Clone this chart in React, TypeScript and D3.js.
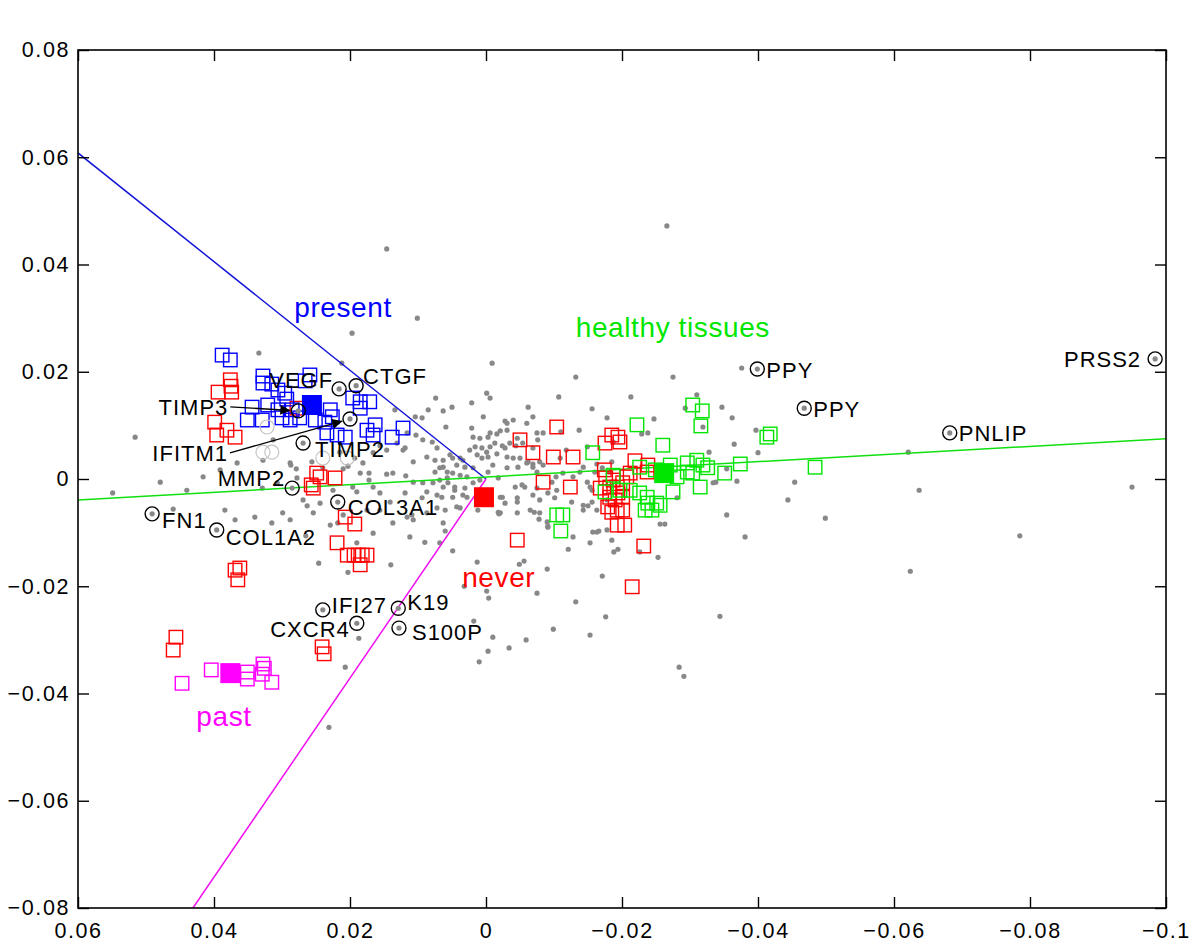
import React, { useEffect, useRef } from 'react';
import * as d3 from 'd3';

// axis ticks (x axis runs from 0.06 on the left to -0.1 on the right)
const xTicks = [0.06, 0.04, 0.02, 0, -0.02, -0.04, -0.06, -0.08, -0.1];
const xTickLabels = ['0.06', '0.04', '0.02', '0', '−0.02', '−0.04', '−0.06', '−0.08', '−0.1'];
const yTicks = [-0.08, -0.06, -0.04, -0.02, 0, 0.02, 0.04, 0.06, 0.08];
const yTickLabels = ['−0.08', '−0.06', '−0.04', '−0.02', '0', '0.02', '0.04', '0.06', '0.08'];

// all genes (grey dots)
const genePoints: [number, number][] = [
  [-0.0266, 0.0472], [0.0146, 0.0429], [0.0101, 0.0300], [0.0197, 0.0272], [0.0334, 0.0235], [-0.0009, 0.0216], [-0.0132, 0.0190], [-0.0275, 0.0190], [-0.0376, 0.0207], [0.0212, 0.0216],
  [-0.0213, 0.0153], [-0.0107, 0.0153], [-0.0310, 0.0157], [0.0074, 0.0151], [-0.0001, 0.0160], [0.0021, 0.0142], [-0.0062, 0.0134], [-0.0156, 0.0131], [-0.0178, 0.0114], [-0.0247, 0.0112],
  [-0.0293, 0.0132], [-0.0319, 0.0097], [-0.0362, 0.0114], [-0.0347, 0.0134], [-0.0397, 0.0091], [-0.0365, 0.0065], [-0.0328, 0.0050], [-0.0400, 0.0049], [-0.0621, 0.0050], [-0.0354, 0.0019],
  [-0.0334, -0.0007], [-0.0338, -0.0006], [-0.0369, -0.0004], [-0.0454, -0.0006], [-0.0444, -0.0039], [-0.0637, -0.0021], [-0.0950, -0.0015], [-0.0499, -0.0073], [-0.0624, -0.0172], [-0.0785, -0.0106],
  [-0.0344, -0.0256], [-0.0284, -0.0351], [-0.0291, -0.0368], [-0.0381, -0.0108], [-0.0354, -0.0067], [-0.0256, -0.0084], [-0.0263, -0.0084], [-0.0253, -0.0146], [-0.0226, -0.0136], [-0.0185, -0.0114],
  [-0.0188, -0.0136], [-0.0194, -0.0131], [-0.0153, -0.0119], [-0.0121, -0.0131], [-0.0143, -0.0049], [-0.0163, -0.0058], [-0.0157, -0.0099], [-0.0166, -0.0097], [-0.0171, -0.0181], [-0.0176, -0.0257],
  [-0.0153, -0.0291], [-0.0099, -0.0280], [-0.0059, -0.0300], [-0.0034, -0.0315], [-0.0010, -0.0295], [-0.0003, -0.0321], [0.0010, -0.0341], [0.0018, -0.0265], [-0.0132, -0.0229], [-0.0075, -0.0213],
  [-0.0090, -0.0168], [-0.0049, -0.0159], [-0.0056, -0.0153], [-0.0001, -0.0209], [-0.0004, -0.0222], [0.0032, -0.0200], [0.0013, -0.0155], [-0.0078, -0.0075], [-0.0090, -0.0080], [-0.0091, -0.0088],
  [-0.0071, -0.0062], [-0.0019, -0.0065], [0.0049, -0.0134], [0.0060, -0.0097], [0.0068, -0.0119], [0.0063, -0.0082], [0.0090, -0.0118], [0.0107, -0.0076], [0.0112, -0.0108], [0.0140, -0.0160],
  [0.0166, -0.0101], [0.0203, -0.0174], [0.0187, -0.0297], [0.0207, -0.0351], [0.0231, -0.0463], [0.0229, -0.0086], [0.0218, -0.0082], [0.0246, -0.0157], [0.0265, -0.0106], [0.0263, -0.0050],
  [0.0288, -0.0076], [0.0340, -0.0071], [0.0369, -0.0076], [0.0384, -0.0058], [0.0460, -0.0056], [0.0516, 0.0078], [0.0479, -0.0006], [0.0440, -0.0021], [0.0416, 0.0004], [0.0391, 0.0017],
  [0.0366, 0.0030], [0.0328, 0.0035], [0.0288, 0.0030], [0.0256, 0.0032], [0.0240, 0.0021], [0.0278, 0.0002], [0.0307, -0.0007], [0.0329, -0.0017], [0.0269, -0.0039], [0.0244, -0.0045],
  [0.0225, -0.0021], [0.0196, -0.0015], [0.0166, -0.0015], [0.0137, 0.0011], [0.0122, 0.0054], [0.0131, 0.0067], [0.0107, 0.0032], [0.0313, 0.0073], [0.0215, 0.0050], [0.0315, -0.0082],
  [0.0137, -0.0082], [0.0116, -0.0071], [0.0190, -0.0119], [0.0549, -0.0026],
  [0.0050, 0.0134], [0.0063, 0.0127], [0.0085, 0.0129], [0.0134, 0.0129], [0.0104, 0.0116], [0.0094, 0.0114], [0.0059, 0.0097], [0.0021, 0.0095], [0.0019, 0.0078], [0.0009, 0.0076],
  [-0.0003, 0.0078], [-0.0016, 0.0084], [-0.0021, 0.0090], [-0.0031, 0.0091], [-0.0031, 0.0104], [-0.0040, 0.0110], [-0.0060, 0.0104], [-0.0044, 0.0062], [-0.0054, 0.0067], [-0.0035, 0.0067],
  [-0.0024, 0.0062], [-0.0013, 0.0067], [-0.0006, 0.0060], [0.0006, 0.0058], [0.0016, 0.0060], [0.0013, 0.0045], [-0.0003, 0.0041], [-0.0016, 0.0047], [-0.0031, 0.0041], [-0.0040, 0.0039],
  [-0.0060, 0.0030], [-0.0069, 0.0028], [-0.0075, 0.0013], [-0.0057, -0.0015], [-0.0043, -0.0015], [-0.0024, -0.0034], [-0.0018, -0.0062], [-0.0046, -0.0043], [-0.0069, -0.0030], [0.0103, 0.0082],
  [0.0116, 0.0086], [0.0093, 0.0073], [0.0079, 0.0069], [0.0072, 0.0058], [0.0087, 0.0041], [0.0075, 0.0035], [0.0063, 0.0035], [0.0053, 0.0045], [0.0049, 0.0039], [0.0034, 0.0035],
  [0.0043, 0.0026], [0.0031, 0.0022], [0.0068, 0.0021], [0.0075, 0.0013], [0.0057, 0.0013], [0.0049, 0.0011], [0.0038, 0.0007], [0.0028, 0.0004], [0.0057, 0.0002], [0.0068, -0.0002],
  [0.0078, -0.0007], [0.0093, -0.0007], [0.0107, -0.0006], [0.0063, -0.0015], [0.0046, -0.0015], [0.0031, -0.0017], [0.0019, -0.0007], [0.0009, -0.0002], [0.0087, -0.0024], [0.0072, -0.0030],
  [0.0049, -0.0034], [0.0028, -0.0034], [0.0012, -0.0026], [0.0094, -0.0035], [0.0118, 0.0006], [0.0119, -0.0026], [0.0119, 0.0058], [0.0146, 0.0054], [0.0156, 0.0062], [0.0166, 0.0049],
  [0.0172, 0.0011], [0.0172, -0.0002], [0.0146, 0.0009], [0.0181, 0.0030], [0.0193, 0.0039], [0.0203, 0.0024], [0.0210, 0.0019], [0.0185, 0.0011], [0.0190, -0.0024], [0.0156, -0.0026],
  [0.0141, -0.0043], [0.0156, -0.0058], [0.0175, -0.0058], [0.0210, -0.0067], [0.0254, -0.0063], [0.0287, 0.0026], [0.0279, 0.0019], [0.0299, -0.0063], [0.0087, -0.0063], [0.0109, -0.0067],
  [0.0072, -0.0054], [0.0038, -0.0054], [0.0012, -0.0058], [-0.0006, 0.0151], [-0.0075, 0.0086], [-0.0076, 0.0073], [-0.0069, 0.0058],
  [-0.0069, 0.0116], [-0.0137, 0.0091], [-0.0110, 0.0088], [-0.0084, 0.0086], [-0.0238, 0.0086], [-0.0229, 0.0084], [-0.0187, 0.0069], [-0.0149, 0.0060], [-0.0118, 0.0054], [-0.0109, 0.0039],
  [-0.0079, 0.0032], [-0.0143, 0.0022], [-0.0163, 0.0028], [-0.0171, 0.0021], [-0.0185, 0.0032], [-0.0138, 0.0013], [-0.0160, 0.0013], [-0.0113, 0.0011], [-0.0103, 0.0004], [-0.0128, 0.0004],
  [-0.0153, -0.0015], [-0.0075, -0.0017], [-0.0091, -0.0026], [-0.0101, -0.0035], [-0.0150, -0.0050], [-0.0181, 0.0013], [-0.0281, -0.0035], [0.0004, 0.0116], [-0.0028, 0.0108],
  [-0.0006, 0.0086], [-0.0046, 0.0076], [0.0024, 0.0054], [-0.0001, 0.0050], [-0.0028, 0.0058], [-0.0050, 0.0039], [-0.0062, 0.0032], [-0.0084, 0.0026], [-0.0069, 0.0022], [-0.0047, 0.0022],
  [-0.0031, 0.0021], [-0.0010, 0.0026], [0.0006, 0.0039], [-0.0003, 0.0013], [-0.0018, 0.0002], [0.0019, 0.0021], [0.0038, 0.0039], [0.0063, 0.0022], [0.0056, -0.0007], [0.0065, -0.0034],
  [0.0046, -0.0021], [0.0034, -0.0030], [0.0043, -0.0052], [0.0060, -0.0058], [-0.0021, -0.0034], [-0.0028, -0.0045], [-0.0046, -0.0035], [-0.0053, -0.0011], [-0.0097, -0.0006], [-0.0149, -0.0006],
  [-0.0156, -0.0021], [-0.0126, -0.0043], [-0.0079, -0.0039], [-0.0104, -0.0021], [-0.0143, -0.0058], [-0.0156, -0.0043], [-0.0178, -0.0039], [-0.0079, -0.0063], [-0.0091, -0.0090], [-0.0065, -0.0058],
  [-0.0046, -0.0063], [-0.0021, -0.0063], [-0.0128, -0.0108], [-0.0163, -0.0099], [-0.0178, -0.0095],
];

// samples (open squares)
const presentSamples: [number, number][] = [
  [0.0388, 0.0231], [0.0376, 0.0222], [0.0328, 0.0192], [0.0328, 0.0179], [0.0315, 0.0177], [0.0306, 0.0166], [0.0296, 0.0160], [0.0293, 0.0149], [0.0259, 0.0194], [0.0266, 0.0183],
  [0.0344, 0.0134], [0.0321, 0.0138], [0.0351, 0.0110], [0.0329, 0.0110], [0.0306, 0.0129], [0.0300, 0.0114], [0.0288, 0.0110], [0.0285, 0.0129], [0.0229, 0.0129], [0.0226, 0.0116],
  [0.0237, 0.0106], [0.0234, 0.0086], [0.0219, 0.0082], [0.0207, 0.0078], [0.0196, 0.0151], [0.0185, 0.0144], [0.0185, 0.0132], [0.0171, 0.0144], [0.0175, 0.0091], [0.0163, 0.0101],
  [0.0166, 0.0082], [0.0138, 0.0078], [0.0122, 0.0095], [0.0274, 0.0114], [0.0251, 0.0110],
];
const neverSamples: [number, number][] = [
  [0.0376, 0.0185], [0.0394, 0.0162], [0.0374, 0.0162], [0.0375, 0.0173], [0.0399, 0.0106], [0.0396, 0.0082], [0.0381, 0.0091], [0.0369, 0.0078], [0.0278, 0.0132], [0.0249, 0.0011],
  [0.0244, 0.0004], [0.0222, 0.0002], [0.0257, -0.0011], [0.0254, -0.0017], [0.0207, -0.0071], [0.0193, -0.0084], [0.0219, -0.0119], [0.0204, -0.0142], [0.0194, -0.0142], [0.0188, -0.0142],
  [0.0182, -0.0142], [0.0175, -0.0142], [0.0185, -0.0160], [0.0369, -0.0170], [0.0362, -0.0166], [0.0365, -0.0188], [0.0456, -0.0295], [0.0460, -0.0319], [0.0241, -0.0313], [0.0238, -0.0326],
  [-0.0046, -0.0114], [-0.0050, 0.0073], [-0.0069, 0.0049], [-0.0104, 0.0097], [-0.0099, 0.0041], [-0.0128, 0.0041], [-0.0084, -0.0006], [-0.0124, -0.0015], [-0.0175, 0.0067], [-0.0185, 0.0082],
  [-0.0194, 0.0078], [-0.0197, 0.0069], [-0.0219, 0.0034], [-0.0212, 0.0011], [-0.0207, 0.0004], [-0.0187, -0.0002], [-0.0182, -0.0015], [-0.0193, -0.0015], [-0.0201, -0.0007], [-0.0194, -0.0026],
  [-0.0182, -0.0034], [-0.0190, -0.0039], [-0.0179, -0.0052], [-0.0193, -0.0058], [-0.0185, -0.0062], [-0.0201, -0.0058], [-0.0238, 0.0026], [-0.0237, 0.0013], [-0.0193, -0.0086], [-0.0204, -0.0086],
  [-0.0232, -0.0125], [-0.0215, -0.0201], [-0.0174, 0.0017], [-0.0168, -0.0017], [-0.0176, 0.0002], [-0.0201, -0.0034],
];
const healthySamples: [number, number][] = [
  [-0.0304, 0.0138], [-0.0318, 0.0127], [-0.0316, 0.0099], [-0.0222, 0.0101], [-0.0260, 0.0063], [-0.0157, 0.0049], [-0.0413, 0.0078], [-0.0418, 0.0084], [-0.0484, 0.0022], [-0.0374, 0.0028],
  [-0.0351, 0.0011], [-0.0315, -0.0015], [-0.0296, 0.0030], [-0.0310, 0.0035], [-0.0319, 0.0026], [-0.0326, 0.0021], [-0.0304, 0.0011], [-0.0296, 0.0013], [-0.0275, -0.0024], [-0.0281, 0.0004],
  [-0.0175, -0.0024], [-0.0237, -0.0034], [-0.0238, -0.0045], [-0.0251, -0.0045], [-0.0256, -0.0049], [-0.0234, -0.0058], [-0.0212, -0.0021], [-0.0226, 0.0022], [-0.0226, -0.0026], [-0.0104, -0.0067],
  [-0.0113, -0.0067], [-0.0110, -0.0097], [-0.0244, -0.0058], [-0.0249, 0.0017], [-0.0271, 0.0026], [-0.0187, 0.0007], [-0.0197, -0.0021],
];
const pastSamples: [number, number][] = [
  [0.0404, -0.0356], [0.0447, -0.0381], [0.0351, -0.0360], [0.0351, -0.0373], [0.0328, -0.0345], [0.0326, -0.0353], [0.0329, -0.0364], [0.0315, -0.0379],
];

// group centroids and the directions drawn from the origin
const groupNames = ['present', 'never', 'healthy tissues', 'past'];
const groupCentroids: [number, number][] = [[0.0256, 0.0138], [0.0003, -0.0034], [-0.0262, 0.0011], [0.0376, -0.0362]];
const groupLabelAt: [number, number][] = [[0.0282, 0.0302], [0.0035, -0.0201], [-0.0132, 0.0265], [0.0426, -0.0461]];
const presentLine: [number, number][] = [[0, 0], [0.06, 0.0608]];
const pastLine: [number, number][] = [[0, 0], [0.0431, -0.08]];
const healthyLine: [number, number][] = [[0.06, -0.0039], [-0.1, 0.0075]];

// highlighted genes
const geneNames = ['PRSS2', 'PPY', 'PPY', 'PNLIP', 'VEGF', 'CTGF', 'TIMP3', 'IFITM1', 'TIMP2', 'MMP2', 'COL3A1', 'FN1', 'COL1A2', 'IFI27', 'CXCR4', 'K19', 'S100P'];
const geneX = [-0.0984, -0.0399, -0.0468, -0.0682, 0.0216, 0.0191, 0.0276, 0.0200, 0.0269, 0.0285, 0.0218, 0.0491, 0.0396, 0.0240, 0.0190, 0.0129, 0.0128];
const geneY = [0.0224, 0.0205, 0.0132, 0.0086, 0.0168, 0.0174, 0.0127, 0.0112, 0.0067, -0.0017, -0.0043, -0.0065, -0.0095, -0.0244, -0.0269, -0.0241, -0.0278];
// other genes marked with faint circles
const fadedGenes: [number, number][] = [[0.0322, 0.0097], [0.0328, 0.0050], [0.0315, 0.0050], [0.0240, 0.0039], [0.0204, 0.0039]];

// label placement in px: [dx, dy, anchor, arrow]
const labelLayout: [number, number, string, boolean][] = [
  [-14, 0, 'end', false], [9, 1, 'start', false], [9, 1, 'start', false], [9, 0, 'start', false],
  [-6, -9, 'end', false], [7, -10, 'start', false], [-70, -4, 'end', true], [-122, 34, 'end', true],
  [12, 6, 'start', false], [-7, -10, 'end', false], [10, 5, 'start', false], [10, 6, 'start', false],
  [9, 7, 'start', false], [9, -5, 'start', false], [-7, 6, 'end', false], [9, -6, 'start', false], [13, 4, 'start', false],
];

const W = 1200;
const H = 951;
const M = { left: 78, right: 34, top: 50, bottom: 43 };
const FONT = '"Liberation Sans", Arial, Helvetica, sans-serif';
const BLUE = '#0000ff';
const RED = '#ff0000';
const GREEN = '#00e600';
const MAGENTA = '#ff00ff';

const drawChart = (el: SVGSVGElement) => {
  const svg = d3.select(el);
  svg.selectAll('*').remove();
  const x = d3.scaleLinear().domain([0.06, -0.1]).range([M.left, W - M.right]);
  const y = d3.scaleLinear().domain([-0.08, 0.08]).range([H - M.bottom, M.top]);

  const defs = svg.append('defs');
  defs.append('clipPath').attr('id', 'plot-clip')
    .append('rect')
    .attr('x', M.left).attr('y', M.top)
    .attr('width', W - M.left - M.right).attr('height', H - M.top - M.bottom);
  defs.append('marker').attr('id', 'arrow-head')
    .attr('viewBox', '0 0 10 10')
    .attr('refX', 10).attr('refY', 5)
    .attr('markerUnits', 'userSpaceOnUse')
    .attr('markerWidth', 15).attr('markerHeight', 10)
    .attr('orient', 'auto')
    .append('path').attr('d', 'M0,0L10,5L0,10Z').attr('fill', '#000');

  const plot = svg.append('g').attr('clip-path', 'url(#plot-clip)');

  plot.append('g').selectAll('circle').data(genePoints)
    .enter()
    .append('circle')
    .attr('cx', (d) => x(d[0])).attr('cy', (d) => y(d[1]))
    .attr('r', 2.6).attr('fill', '#888');

  const line = d3.line<[number, number]>().x((d) => x(d[0])).y((d) => y(d[1]));
  [[presentLine, '#1414d8'], [healthyLine, '#10e010'], [pastLine, '#f010f0']].forEach(([pts, c]) => {
    plot.append('path').attr('d', line(pts as [number, number][]))
      .attr('fill', 'none').attr('stroke', c as string).attr('stroke-width', 1.5);
  });

  const sq = 13.5;
  [[neverSamples, RED], [presentSamples, BLUE], [healthySamples, GREEN], [pastSamples, MAGENTA]].forEach(([pts, c]) => {
    plot.append('g').selectAll('rect').data(pts as [number, number][])
      .enter()
      .append('rect')
      .attr('x', (d) => x(d[0]) - sq / 2).attr('y', (d) => y(d[1]) - sq / 2)
      .attr('width', sq).attr('height', sq)
      .attr('fill', 'none').attr('stroke', c as string).attr('stroke-width', 1.4);
  });

  const groupColors = [BLUE, RED, GREEN, MAGENTA];
  const big = 20;
  plot.append('g').selectAll('rect').data(groupCentroids)
    .enter()
    .append('rect')
    .attr('x', (d) => x(d[0]) - big / 2).attr('y', (d) => y(d[1]) - big / 2)
    .attr('width', big).attr('height', big)
    .attr('fill', (d, i) => groupColors[i]);

  plot.append('g').selectAll('circle').data(fadedGenes)
    .enter()
    .append('circle')
    .attr('cx', (d) => x(d[0])).attr('cy', (d) => y(d[1]))
    .attr('r', 7).attr('fill', 'none').attr('stroke', '#c4c4c4').attr('stroke-width', 1.2);

  // highlighted genes: circle + dot + label
  const genes = geneNames.map((name, i) => ({ name, cx: x(geneX[i]), cy: y(geneY[i]), lay: labelLayout[i] }));
  const gg = svg.append('g');
  genes.forEach((g) => {
    gg.append('circle').attr('cx', g.cx).attr('cy', g.cy).attr('r', 2.6).attr('fill', '#888');
    gg.append('circle').attr('cx', g.cx).attr('cy', g.cy).attr('r', 7)
      .attr('fill', 'none').attr('stroke', '#000').attr('stroke-width', 1.4);
    const [dx, dy, anchor, arrow] = g.lay;
    gg.append('text')
      .attr('x', g.cx + dx).attr('y', g.cy + dy + 8)
      .attr('text-anchor', anchor)
      .attr('font-family', FONT).attr('font-size', 22).attr('letter-spacing', 1)
      .attr('fill', '#000')
      .text(g.name);
    if (arrow) {
      const sx = g.cx + dx + 2;
      const sy = g.cy + dy;
      const len = Math.hypot(g.cx - sx, g.cy - sy);
      const tx = g.cx - (g.cx - sx) * 8 / len;
      const ty = g.cy - (g.cy - sy) * 8 / len;
      gg.append('line').attr('x1', sx).attr('y1', sy).attr('x2', tx).attr('y2', ty)
        .attr('stroke', '#000').attr('stroke-width', 1.4)
        .attr('marker-end', 'url(#arrow-head)');
    }
  });

  svg.append('g').selectAll('text').data(groupNames)
    .enter()
    .append('text')
    .attr('x', (d, i) => x(groupLabelAt[i][0])).attr('y', (d, i) => y(groupLabelAt[i][1]))
    .attr('font-family', FONT).attr('font-size', 28).attr('letter-spacing', 0.6)
    .attr('fill', (d, i) => groupColors[i])
    .text((d) => d);

  // frame and MATLAB-style inward ticks on all sides
  const bottomAxis = svg.append('g').attr('transform', `translate(0,${ H - M.bottom })`)
    .call(d3.axisBottom(x).tickValues(xTicks).tickFormat((d, i) => xTickLabels[i])
      .tickSizeInner(-11).tickSizeOuter(0).tickPadding(15));
  const leftAxis = svg.append('g').attr('transform', `translate(${ M.left },0)`)
    .call(d3.axisLeft(y).tickValues(yTicks).tickFormat((d, i) => yTickLabels[i])
      .tickSizeInner(-11).tickSizeOuter(0).tickPadding(8));
  const topAxis = svg.append('g').attr('transform', `translate(0,${ M.top })`)
    .call(d3.axisTop(x).tickValues(xTicks).tickFormat(() => '').tickSizeInner(-11).tickSizeOuter(0));
  const rightAxis = svg.append('g').attr('transform', `translate(${ W - M.right },0)`)
    .call(d3.axisRight(y).tickValues(yTicks).tickFormat(() => '').tickSizeInner(-11).tickSizeOuter(0));
  [bottomAxis, leftAxis, topAxis, rightAxis].forEach((a) => {
    a.select('.domain').remove();
    a.selectAll('line').attr('stroke', '#000').attr('stroke-width', 1.4);
    a.selectAll('text').attr('font-family', FONT).attr('font-size', 21.5)
      .attr('letter-spacing', 1.6).attr('fill', '#000');
  });
  svg.append('rect')
    .attr('x', M.left).attr('y', M.top)
    .attr('width', W - M.left - M.right).attr('height', H - M.top - M.bottom)
    .attr('fill', 'none').attr('stroke', '#000').attr('stroke-width', 1.6);
};

const App = () => {
  const ref = useRef<SVGSVGElement>(null);

  useEffect(() => {
    if (ref.current) drawChart(ref.current);
  }, []);

  return (
    <svg ref={ ref } width={ W } height={ H }
      style={ { position: 'absolute', left: 0, top: 0, background: '#fff' } }/>
  );
};

export default App;
